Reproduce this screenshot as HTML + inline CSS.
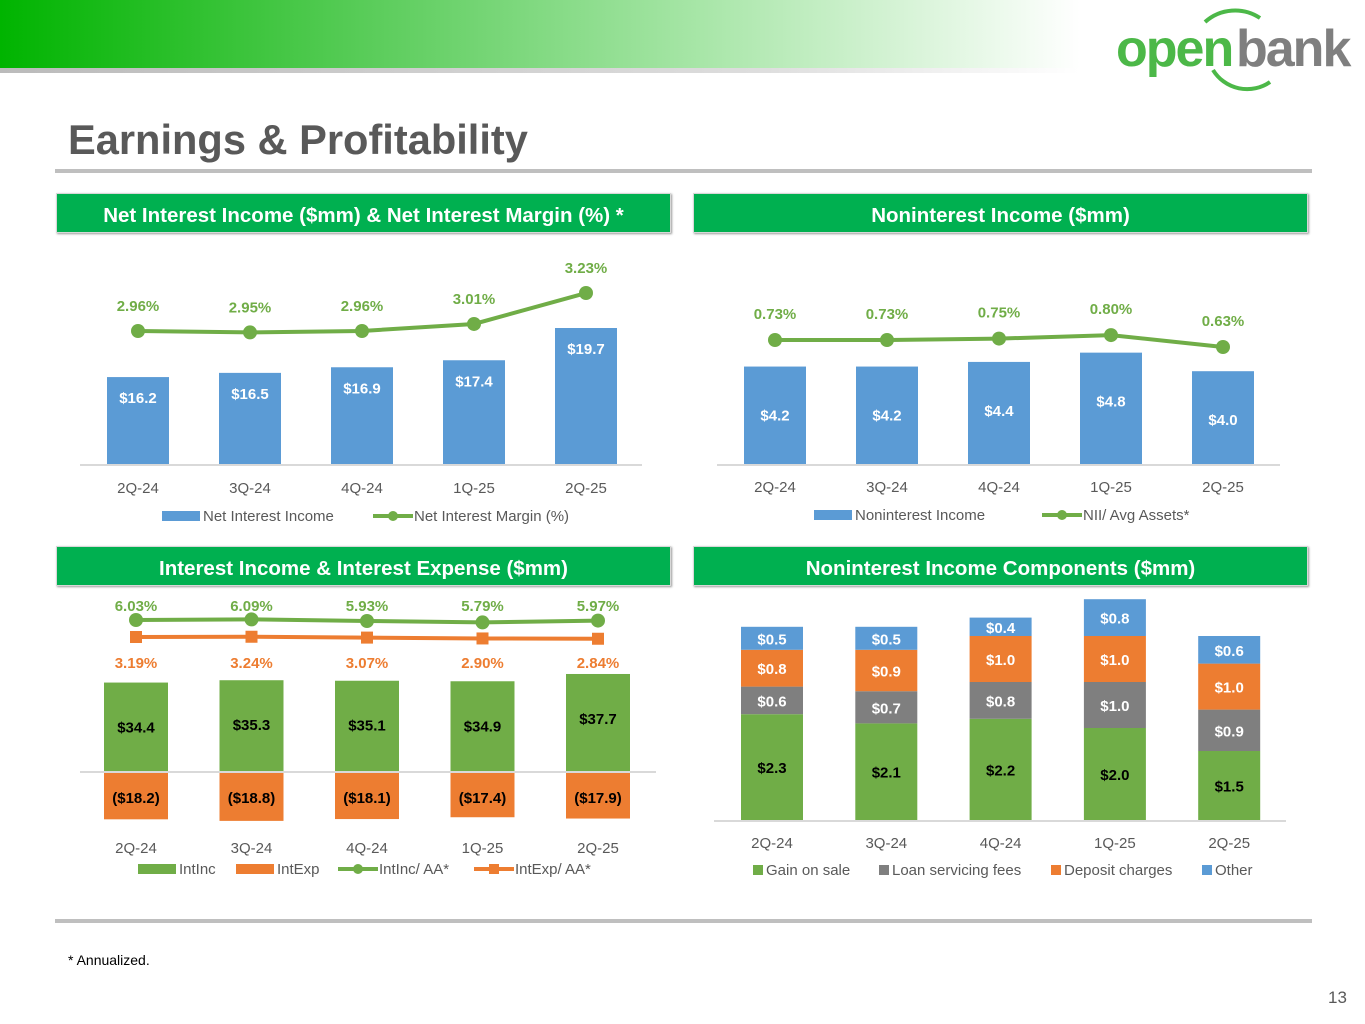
<!DOCTYPE html>
<html><head><meta charset="utf-8">
<style>
body{margin:0;width:1365px;height:1024px;background:#fff;overflow:hidden;position:relative;font-family:"Liberation Sans",sans-serif}
.hdr{position:absolute;height:40px;background:#00b050;color:#fff;font-weight:bold;font-size:20.5px;text-align:center;line-height:43px;box-shadow:1px 1px 2px #999;border:1px solid #d8d8d8;box-sizing:border-box;white-space:nowrap}
svg text{font-family:"Liberation Sans",sans-serif}
</style></head><body>
<div style="position:absolute;left:0;top:0;width:1080px;height:68px;background:linear-gradient(90deg,#00b400 0%,#5ccd5c 35%,#a8e6a8 65%,#fff 100%)"></div>
<div style="position:absolute;left:0;top:68px;width:1080px;height:5px;background:linear-gradient(90deg,#bbb,#ddd 70%,#fff)"></div>
<svg style="position:absolute;left:1110px;top:0" width="255" height="100">
<path d="M95 22 A45 45 0 0 1 150 18" stroke="#4cb848" stroke-width="4" fill="none"/>
<path d="M103 70 A40 40 0 0 0 160 82" stroke="#4cb848" stroke-width="4" fill="none"/>
<text x="6" y="66" font-size="52" fill="#4cb848" font-weight="bold" letter-spacing="-2">open</text>
<text x="126" y="66" font-size="52" fill="#7f7f7f" font-weight="bold" letter-spacing="-2">bank</text>
</svg>
<div style="position:absolute;left:68px;top:116px;font-size:41.6px;font-weight:bold;color:#595959">Earnings &amp; Profitability</div>
<div style="position:absolute;left:55px;top:169px;width:1257px;height:4px;background:#bfbfbf"></div>
<div class="hdr" style="left:56px;top:193px;width:615px">Net Interest Income ($mm) &amp; Net Interest Margin (%) *</div>
<div class="hdr" style="left:693px;top:193px;width:615px">Noninterest Income ($mm)</div>
<div class="hdr" style="left:56px;top:546px;width:615px">Interest Income &amp; Interest Expense ($mm)</div>
<div class="hdr" style="left:693px;top:546px;width:615px">Noninterest Income Components ($mm)</div>
<div style="position:absolute;left:55px;top:919px;width:1257px;height:4px;background:#bfbfbf"></div>
<div style="position:absolute;left:68px;top:952px;font-size:14px;color:#000">* Annualized.</div>
<div style="position:absolute;left:1328px;top:988px;font-size:17px;color:#595959">13</div>
<svg id="c" style="position:absolute;left:0;top:0" width="1365" height="1024"></svg>
<script>
const quarters=["2Q-24","3Q-24","4Q-24","1Q-25","2Q-25"];
const niiValues=[16.2,16.5,16.9,17.4,19.7];
const nimValues=[2.96,2.95,2.96,3.01,3.23];
const nonintValues=[4.2,4.2,4.4,4.8,4.0];
const niiAssetValues=[0.73,0.73,0.75,0.80,0.63];
const intIncValues=[34.4,35.3,35.1,34.9,37.7];
const intExpValues=[18.2,18.8,18.1,17.4,17.9];
const intIncAAValues=[6.03,6.09,5.93,5.79,5.97];
const intExpAAValues=[3.19,3.24,3.07,2.90,2.84];
const gainValues=[2.3,2.1,2.2,2.0,1.5];
const servicingValues=[0.6,0.7,0.8,1.0,0.9];
const depositValues=[0.8,0.9,1.0,1.0,1.0];
const otherValues=[0.5,0.5,0.4,0.8,0.6];

const S=document.getElementById('c');const NS='http://www.w3.org/2000/svg';
function mk(t,a,txt){const e=document.createElementNS(NS,t);for(const k in a)e.setAttribute(k,a[k]);if(txt!==undefined)e.textContent=txt;S.appendChild(e);return e;}
const BLUE='#5b9bd5',GREEN='#70ad47',ORANGE='#ed7d31',GRAY='#7f7f7f',AX='#d9d9d9',TX='#595959';
function xs(x0,dx){return i=>x0+i*dx;}
function cats(x,y){quarters.forEach((q,i)=>{const t=mk('text',{x:x(i),y:y,'text-anchor':'middle','font-size':15,fill:TX},q);

});}
function bar(x,w,y1,y2,col,name){const r=mk('rect',{x:x-w/2,y:Math.min(y1,y2),width:w,height:Math.abs(y2-y1),fill:col});

return r;}
function lbl(x,y,s,col,size,name){const t=mk('text',{x:x,y:y,'text-anchor':'middle','font-size':size||15,'font-weight':'bold',fill:col},s);

}
function line(x,vals,ys,col,name,sq){const d=vals.map((v,i)=>(i?'L':'M')+x(i)+' '+ys(v)).join(' ');const p=mk('path',{d:d,stroke:col,'stroke-width':4,fill:'none'});


vals.forEach((v,i)=>{let m;if(sq)m=mk('rect',{x:x(i)-6,y:ys(v)-6,width:12,height:12,fill:col});else m=mk('circle',{cx:x(i),cy:ys(v),r:7,fill:col});

});}
function axis(x1,x2,y){const l=mk('line',{x1:x1,x2:x2,y1:y,y2:y,stroke:AX,'stroke-width':2});

}
function legSw(x,y,col,name,txt,kind){let e;if(kind==='line'){e=mk('line',{x1:x,x2:x+40,y1:y,y2:y,stroke:col,'stroke-width':4});mk('circle',{cx:x+20,cy:y,r:5,fill:col});}
else if(kind==='sqline'){e=mk('line',{x1:x,x2:x+40,y1:y,y2:y,stroke:col,'stroke-width':4});mk('rect',{x:x+15,y:y-5,width:10,height:10,fill:col});}
else e=mk('rect',{x:x,y:y-5,width:kind||38,height:10,fill:col});


const w=kind==='line'||kind==='sqline'?41:(kind||38)+3;
const t=mk('text',{x:x+w,y:y+5,'font-size':15,fill:TX},txt);

}

// Chart 1
{const x=xs(138,112),base=464,yb=v=>base-(v-10)*14.02,yl=v=>331-(v-2.96)*140.7;
axis(80,642,base+1);
niiValues.forEach((v,i)=>{bar(x(i),62,base,yb(v),BLUE,'nii-bar');lbl(x(i),yb(v)+26,'$'+v.toFixed(1),'#fff',15,'nii-bar-value');});
line(x,nimValues,yl,GREEN,'nim-line');
nimValues.forEach((v,i)=>lbl(x(i),yl(v)-20,v.toFixed(2)+'%',GREEN,15,'nim-value'));
cats(x,493);legSw(162,516,BLUE,'nii','Net Interest Income');legSw(373,516,GREEN,'nim','Net Interest Margin (%)','line');}
// Chart 2
{const x=xs(775,112),base=464,yb=v=>base-v*23.2,yl=v=>340-(v-0.73)*70;
axis(717,1280,base+1);
nonintValues.forEach((v,i)=>{bar(x(i),62,base,yb(v),BLUE,'nonint-bar');lbl(x(i),yb(v)+54,'$'+v.toFixed(1),'#fff',15,'nonint-bar-value');});
line(x,niiAssetValues,yl,GREEN,'nii-assets-line');
niiAssetValues.forEach((v,i)=>lbl(x(i),yl(v)-21,v.toFixed(2)+'%',GREEN,15,'nii-assets-value'));
cats(x,492);legSw(814,515,BLUE,'nonint','Noninterest Income');legSw(1042,515,GREEN,'nii-assets','NII/ Avg Assets*','line');}
// Chart 3
{const x=xs(136,115.5),base=772,yb=v=>base-v*2.6,yg=v=>620-(v-6.03)*10,yo=v=>637-(v-3.19)*5;
intIncValues.forEach((v,i)=>{bar(x(i),64,base,yb(v),GREEN,'intinc-bar');lbl(x(i),yb(v)+50,'$'+v.toFixed(1),'#000',15,'intinc-bar-value');});
intExpValues.forEach((v,i)=>{bar(x(i),64,base,base+v*2.6,ORANGE,'intexp-bar');lbl(x(i),base+31,'($'+v.toFixed(1)+')','#000',15,'intexp-bar-value');});
axis(80,656,base);
line(x,intIncAAValues,yg,GREEN,'intinc-aa-line');line(x,intExpAAValues,yo,ORANGE,'intexp-aa-line',true);
intIncAAValues.forEach((v,i)=>lbl(x(i),611,v.toFixed(2)+'%',GREEN,15,'intinc-aa-value'));
intExpAAValues.forEach((v,i)=>lbl(x(i),668,v.toFixed(2)+'%',ORANGE,15,'intexp-aa-value'));
cats(x,853);legSw(138,869,GREEN,'intinc','IntInc',38);legSw(236,869,ORANGE,'intexp','IntExp',38);legSw(338,869,GREEN,'intinc-aa','IntInc/ AA*','line');legSw(474,869,ORANGE,'intexp-aa','IntExp/ AA*','sqline');}
// Chart 4
{const x=xs(772,114.3),base=820,k=46;
axis(714,1286,base+1);
quarters.forEach((q,i)=>{let y=base;[[gainValues,GREEN,'gain','#000'],[servicingValues,GRAY,'servicing','#fff'],[depositValues,ORANGE,'deposit','#fff'],[otherValues,BLUE,'other','#fff']].forEach(([arr,col,n,tc])=>{const h=arr[i]*k;bar(x(i),62,y,y-h,col,n+'-bar');lbl(x(i),y-h/2+6,'$'+arr[i].toFixed(1),tc,15,n+'-value');y-=h;});});
cats(x,848);legSw(753,870,GREEN,'gain','Gain on sale',10);legSw(879,870,GRAY,'servicing','Loan servicing fees',10);legSw(1051,870,ORANGE,'deposit','Deposit charges',10);legSw(1202,870,BLUE,'other','Other',10);}
</script>
</body></html>
